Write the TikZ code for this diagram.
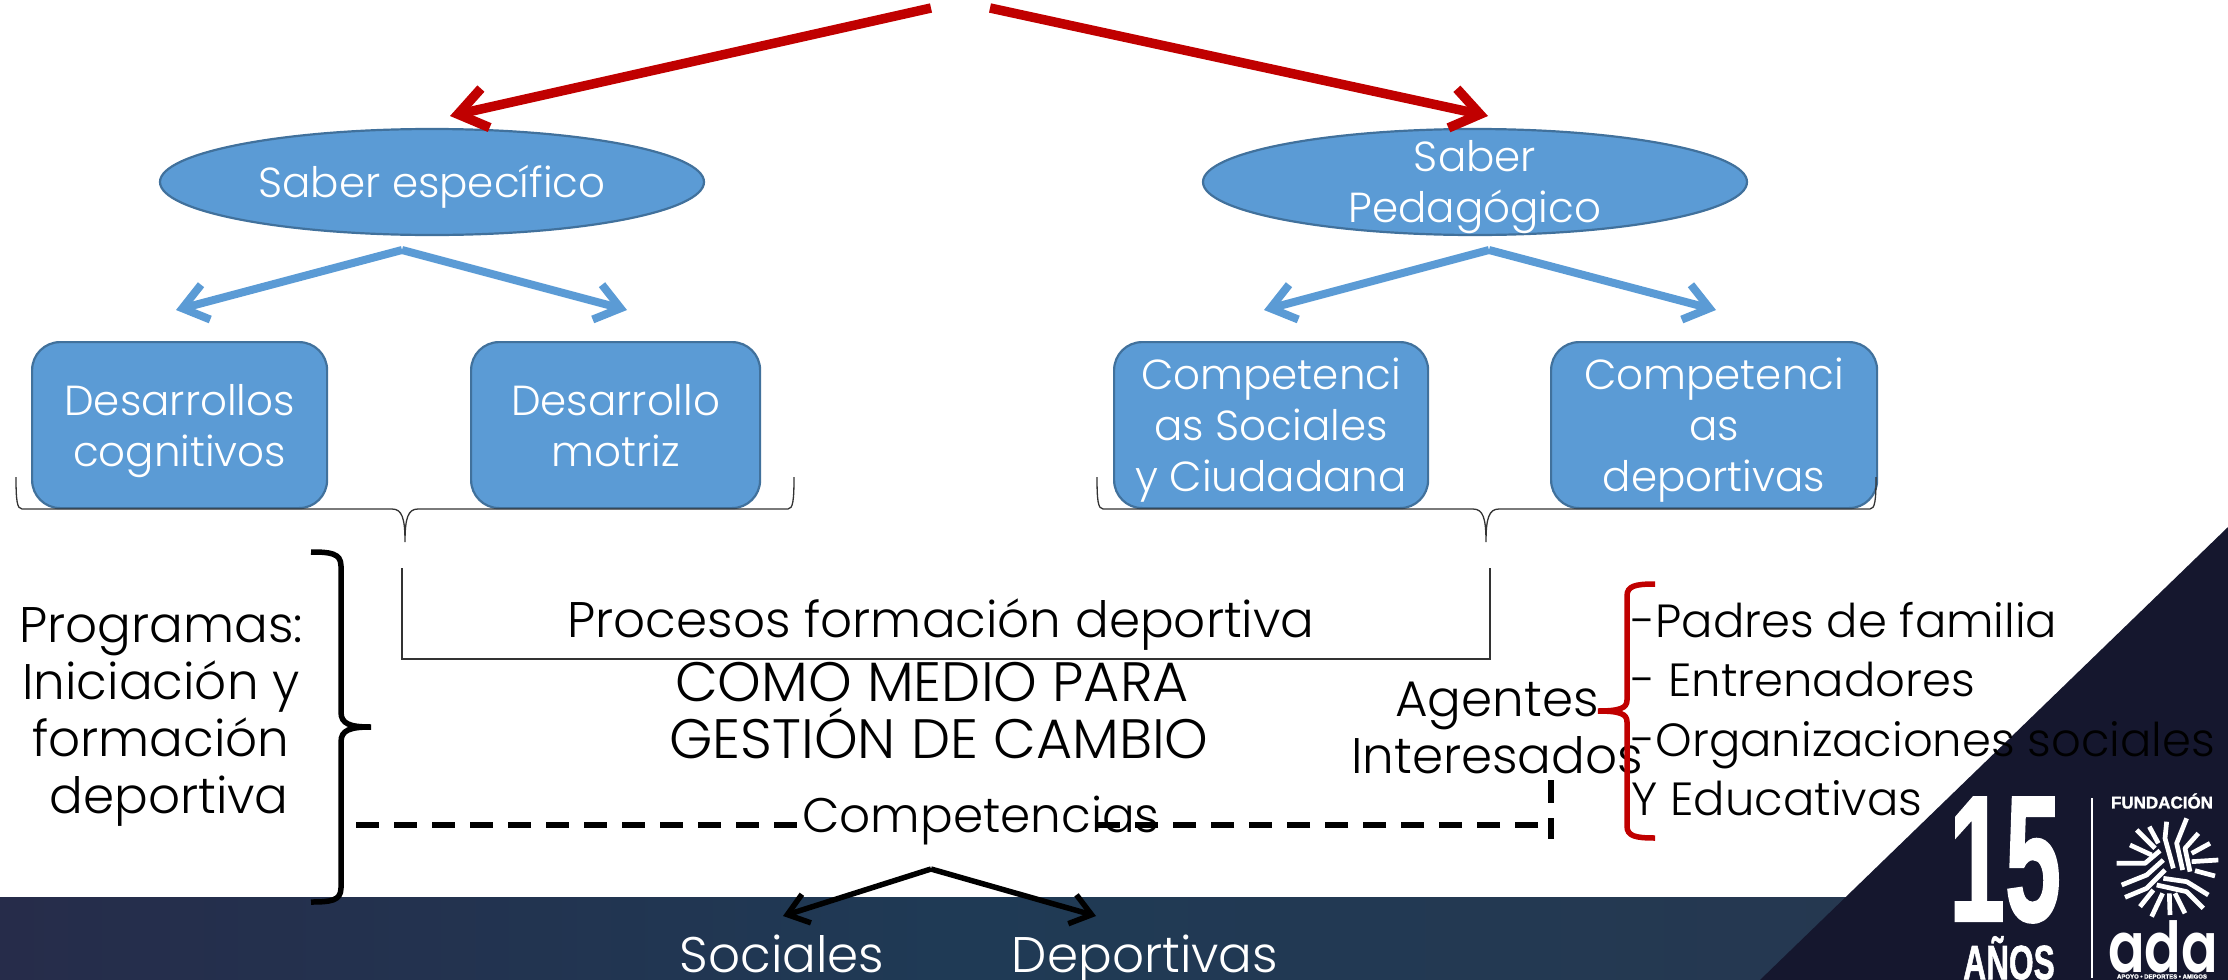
\documentclass[tikz,border=0pt]{standalone}
\usepackage{fontspec}
\setmainfont{Poppins Light}
\newfontfamily\logofont{Liberation Sans Bold}[FakeBold=1.5]
\newfontfamily\adafont{Poppins SemiBold}
\newcommand{\lineas}[1]{\smash{\raisebox{-11.5pt}{\begin{tabular}{@{}c@{}}#1\end{tabular}}}}
\usetikzlibrary{arrows.meta,shapes.geometric}
\definecolor{azul}{HTML}{5B9BD5}
\definecolor{azulb}{HTML}{41719C}
\definecolor{rojo}{HTML}{C00000}
\definecolor{noche}{HTML}{15172E}
\definecolor{bandl}{HTML}{262C4A}
\definecolor{bandm}{HTML}{1F3A55}
\definecolor{bandr}{HTML}{263850}
\tikzset{
  x=1pt,y=-1pt,
  forma/.style={draw=azulb,line width=2.2pt,fill=azul,text=white,font=\fontsize{42}{51}\selectfont},
  oval/.style={forma,ellipse,minimum width=544pt,minimum height=106pt,inner sep=0pt},
  caja/.style={forma,rounded corners=28pt,inner sep=0pt,anchor=north west},
  negro/.style={align=center,font=\fontsize{50}{57}\selectfont,text=black},
  blanco/.style={text=white,font=\fontsize{50}{50}\selectfont},
  flechaRoja/.style={draw=rojo,line width=9.5pt,-{Straight Barb[length=28pt,width=40pt]}},
  flechaAzul/.style={draw=azul,line width=8pt,-{Straight Barb[length=24pt,width=36pt]}},
  flechaNegra/.style={draw=black,line width=5.5pt,-{Straight Barb[length=20pt,width=30pt]}},
  fino/.style={draw=black!80,line width=1.3pt},
  llave/.style={line width=5.5pt},
  raya/.style={draw=black,line width=6pt,dash pattern=on 23pt off 15pt},
  rayo/.style={draw=white,line width=4.7pt,line join=round},
}
\begin{document}
\begin{tikzpicture}
\useasboundingbox (0,0) rectangle (2228,980);
% background band and corner
\fill[left color=bandl,right color=bandr,middle color=bandm] (0,897) rectangle (1900,980);
\fill[noche] (2228,527) -- (2228,980) -- (1760,980) -- cycle;
% coordinates
\coordinate (rt) at (931,8); \coordinate (rt2) at (990,8);
\coordinate (re1) at (450,116); \coordinate (re2) at (1488,116);
\coordinate (ba) at (402,250); \coordinate (bb) at (1489,250);
\coordinate (b1) at (176,310); \coordinate (b2) at (627,310);
\coordinate (b3) at (1264,310); \coordinate (b4) at (1716,310);
\coordinate (na) at (931,869); \coordinate (n1) at (783,916); \coordinate (n2) at (1096,916);
% nodes
\node[oval] (se) at (432,182) {\lineas{Saber específico}};
\node[oval] (sp) at (1475,182) {\lineas{Saber\\Pedagógico}};
\node[caja,minimum width=295pt,minimum height=166pt] (d1) at (31,341) {\lineas{Desarrollos\\cognitivos}};
\node[caja,minimum width=289pt,minimum height=166pt] (d2) at (470,341) {\lineas{Desarrollo\\motriz}};
\node[caja,minimum width=314pt,minimum height=166pt] (c1) at (1113,341) {\lineas{Competenci\\as Sociales\\y Ciudadana}};
\node[caja,minimum width=326pt,minimum height=166pt] (c2) at (1550,341) {\lineas{Competenci\\as\\deportivas}};
\node[negro] (prog) at (161,717) {Programas:\\Iniciación y\\formación\\\hspace*{16pt}deportiva};
\node[negro] (proc) at (941,625) {Procesos formación deportiva};
\node[negro,font=\fontsize{55.5}{57}\selectfont] (como) at (939,711) {COMO MEDIO PARA\hspace*{14pt}\\GESTIÓN DE CAMBIO};
\node[negro,font=\fontsize{48.5}{57}\selectfont] (comp) at (981,821) {Competencias};
\node[negro] (agen) at (1497,728) {Agentes\\Interesados};
\node[negro,align=left,anchor=west,font=\fontsize{46.5}{59.5}\selectfont] (lista) at (1628,709) {-Padres de familia\\- Entrenadores\\-Organizaciones sociales\\Y Educativas};
\node[blanco,anchor=base] (soc) at (782,972) {Sociales};
\node[blanco,anchor=base] (dep) at (1145,972) {Deportivas};
% arrows
\draw[flechaRoja] (rt) -- (re1);
\draw[flechaRoja] (rt2) -- (re2);
\draw[flechaAzul] (ba) -- (b1);
\draw[flechaAzul] (ba) -- (b2);
\draw[flechaAzul] (bb) -- (b3);
\draw[flechaAzul] (bb) -- (b4);
\draw[flechaNegra] (na) -- (n1);
\draw[flechaNegra] (na) -- (n2);
% thin braces
\draw[fino] (16,477) .. controls (16,500) and (17,509) .. (22,509) -- (392,509) .. controls (402,509) and (405,518) .. (405,542) .. controls (405,518) and (408,509) .. (418,509) -- (788,509) .. controls (793,509) and (794,500) .. (794,477);
\draw[fino] (1097,477) .. controls (1097,500) and (1098,509) .. (1103,509) -- (1473,509) .. controls (1483,509) and (1486,518) .. (1486,542) .. controls (1486,518) and (1489,509) .. (1499,509) -- (1870,509) .. controls (1875,509) and (1876,500) .. (1876,477);
% bracket
\draw[fino] (402,568) -- (402,659) -- (1490,659) -- (1490,568);
% black brace
\draw[llave,black] (311,552) .. controls (330,552) and (341,553) .. (341,566) -- (341,712) .. controls (341,724) and (350,727) .. (371,727) .. controls (350,727) and (341,730) .. (341,742) -- (341,888) .. controls (341,901) and (330,902) .. (311,902);
% red brace
\draw[llave,rojo] (1655,584) .. controls (1635,584) and (1627,586) .. (1627,596) -- (1627,700) .. controls (1627,708) and (1620,711) .. (1598,711) .. controls (1620,711) and (1627,714) .. (1627,722) -- (1627,826) .. controls (1627,836) and (1635,838) .. (1655,838);
% dashes
\coordinate (dl) at (356,825); \coordinate (dm) at (803,825);
\coordinate (dr) at (1538,825); \coordinate (ds) at (1098,825);
\coordinate (vt) at (1551,780); \coordinate (vb) at (1551,839);
\draw[raya] (dl) -- (dm);
\draw[raya] (dr) -- (ds);
\draw[raya] (vt) -- (vb);
% logo
\node[text=white,inner sep=0pt] (quince) at (2005,860) {\logofont\fontsize{112}{112}\selectfont\scalebox{0.9}[1.6]{15}};
\node[text=white,inner sep=0pt] (anos) at (2009,958) {\logofont\fontsize{44}{44}\selectfont\scalebox{0.72}[1.1]{AÑOS}};
\draw[white,line width=2pt] (2092,798) -- (2092,978);
\node[text=white,inner sep=0pt] (fund) at (2162,801) {\logofont\fontsize{17}{17}\selectfont FUNDACIÓN};
\node[text=white,inner sep=0pt] (ada) at (2163,947) {\adafont\fontsize{54}{54}\selectfont\scalebox{1}[1.3]{ada}};
\node[text=white,inner sep=0pt] (lema) at (2162,976.5) {\logofont\fontsize{6}{6}\selectfont APOYO • DEPORTES • AMIGOS};
\begin{scope}[shift={(2090,780)},x=0.3333pt,y=-0.3333pt]
\draw[rayo] (120,195)--(185,225);
\draw[rayo] (140,150)--(195,205);
\draw[rayo] (178,140)--(205,190);
\draw[rayo] (230,125)--(225,175)--(250,265);
\draw[rayo] (290,115)--(260,190)--(278,270);
\draw[rayo] (325,160)--(285,205)--(300,275);
\draw[rayo] (360,190)--(305,220);
\draw[rayo] (385,240)--(305,245);
\draw[rayo] (375,288)--(315,272);
\draw[rayo] (80,250)--(165,250)--(210,212);
\draw[rayo] (95,315)--(170,285)--(220,240);
\draw[rayo] (105,352)--(170,325)--(225,270);
\draw[rayo] (150,380)--(190,330);
\draw[rayo] (185,410)--(218,340);
\draw[rayo] (240,405)--(238,340);
\draw[rayo] (285,400)--(255,340);
\draw[rayo] (340,385)--(290,335)--(200,315);
\draw[rayo] (355,345)--(290,305)--(220,295);
\end{scope}
\end{tikzpicture}
\end{document}
